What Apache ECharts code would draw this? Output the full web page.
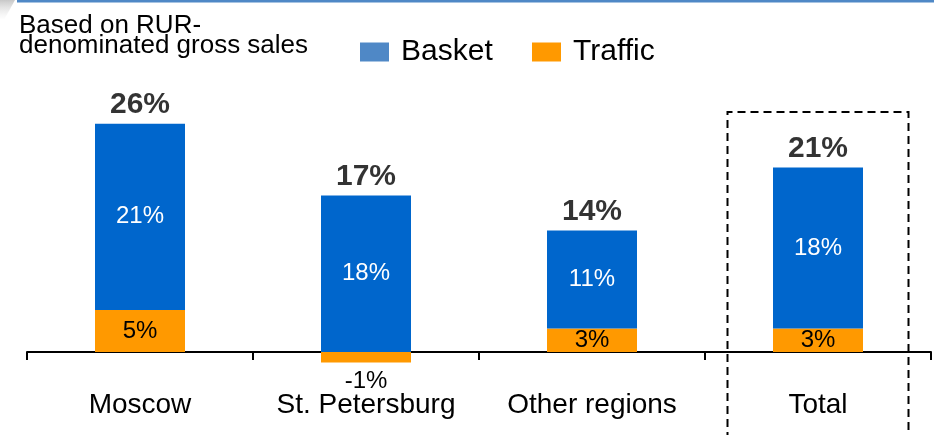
<!DOCTYPE html>
<html>
<head>
<meta charset="utf-8">
<script src="https://cdn.jsdelivr.net/npm/echarts@6/dist/echarts.min.js"></script>
<style>
  html, body { margin: 0; padding: 0; background: #fff; }
  #main { width: 934px; height: 435px; }
</style>
</head>
<body>
<div id="main"></div>
<script>
// data (% growth, RUR gross sales)
var categories = ['Moscow', 'St. Petersburg', 'Other regions', 'Total'];
var basket = [21.3, 17.9, 11.2, 18.4];
var traffic = [4.8, -1.2, 2.7, 2.7];

var font = 'Liberation Sans, Arial, sans-serif';

// top of the positive stack, used to hang the bold total label
var stackTop = basket.map(function (v, i) { return v + Math.max(traffic[i], 0); });
var totals = basket.map(function (v, i) { return Math.round(v + traffic[i]); });

var chart = echarts.init(document.getElementById('main'));

var option = {
  animation: false,
  textStyle: { fontFamily: font },
  title: {
    text: 'Based on RUR-\ndenominated gross sales',
    left: 19,
    top: 16,
    padding: 0,
    textStyle: { fontSize: 26, lineHeight: 20, fontWeight: 'normal', color: '#000', fontFamily: font }
  },
  legend: [{
    data: [{ name: 'Basket', itemStyle: { color: '#4F88C6' } }],
    left: 360,
    top: 37,
    padding: 0,
    icon: 'rect',
    itemWidth: 29,
    itemHeight: 19,
    textStyle: { fontSize: 30, color: '#000', padding: [0, 0, 0, 7], fontFamily: font }
  }, {
    data: [{ name: 'Traffic', itemStyle: { color: '#FF9900' } }],
    left: 532,
    top: 37,
    padding: 0,
    icon: 'rect',
    itemWidth: 29,
    itemHeight: 19,
    textStyle: { fontSize: 30, color: '#000', padding: [0, 0, 10, 7], fontFamily: font }
  }],
  // 8.75px per point, zero line at y=352
  grid: { left: 27, right: 3, top: 89.5, bottom: 65.5 },
  xAxis: {
    type: 'category',
    data: categories,
    axisLine: { onZero: true, lineStyle: { color: '#000', width: 2 } },
    axisTick: { show: true, length: 8, lineStyle: { color: '#000', width: 2 } },
    axisLabel: { interval: 0, fontSize: 28, color: '#000', margin: 22, fontFamily: font },
    splitLine: { show: false }
  },
  yAxis: {
    type: 'value',
    show: false,
    min: -2,
    max: 30,
    interval: 2,
    splitLine: { show: false }
  },
  series: [{
    // traffic sits at the bottom of the stack
    name: 'Traffic',
    type: 'bar',
    stack: 'a',
    barWidth: 90,
    itemStyle: { color: '#FF9900' },
    label: {
      show: true,
      position: 'inside',
      color: '#000',
      fontSize: 24,
      fontFamily: font,
      formatter: function (p) { return Math.round(p.value) + '%'; }
    },
    data: traffic.map(function (v) {
      // negative value: label goes under the bar
      return v < 0 ? { value: v, label: { position: 'outside', distance: 7 } } : v;
    })
  }, {
    name: 'Basket',
    type: 'bar',
    stack: 'a',
    barWidth: 90,
    itemStyle: { color: '#0066CC' },
    label: {
      show: true,
      position: 'inside',
      color: '#fff',
      fontSize: 24,
      fontFamily: font,
      formatter: function (p) { return Math.round(p.value) + '%'; }
    },
    data: basket
  }, {
    name: 'Total',
    type: 'scatter',
    symbolSize: 0,
    silent: true,
    label: {
      show: true,
      position: 'top',
      distance: 4,
      color: '#000',
      fontSize: 30,
      fontWeight: 'bold',
      fontFamily: font,
      formatter: function (p) { return totals[p.dataIndex] + '%'; }
    },
    data: stackTop
  }]
};
chart.setOption(option);

// decorations: top rule, corner shade and dashed frame round "Total"
var cx = chart.convertToPixel({ xAxisIndex: 0 }, 'Total');
var half = 90.5;
chart.setOption({
  graphic: [{
    type: 'polygon',
    shape: { points: [[0, 0], [15, 0], [4, 20], [0, 20]] },
    style: {
      fill: new echarts.graphic.LinearGradient(0, 0, 0, 1, [
        { offset: 0, color: '#c8c8c8' },
        { offset: 1, color: 'rgba(230,230,230,0)' }
      ])
    },
    silent: true
  }, {
    type: 'rect',
    shape: { x: 17, y: 0, width: 917, height: 2.5 },
    style: { fill: '#4F88C6' },
    silent: true
  }, {
    type: 'polyline',
    shape: { points: [[cx - half, 440], [cx - half, 112], [cx + half, 112], [cx + half, 440]] },
    style: { stroke: '#000', lineWidth: 2, lineDash: [8, 5], fill: null },
    silent: true
  }]
});
</script>
</body>
</html>
